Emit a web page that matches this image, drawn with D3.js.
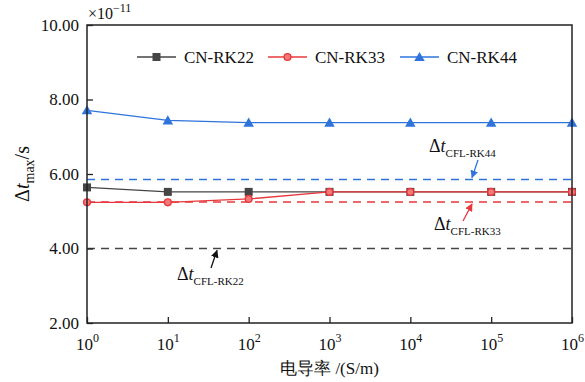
<!DOCTYPE html>
<html>
<head>
<meta charset="utf-8">
<script src="https://cdn.jsdelivr.net/npm/d3@7"></script>
<style>
  body { margin: 0; background: #fff; }
  text { font-family: "Liberation Serif", "Times New Roman", serif; }
</style>
</head>
<body>
<svg width="585" height="382"></svg>
<script>
const sigma = [1, 10, 100, 1000, 10000, 100000, 1000000];
const rk22 = [5.64, 5.52, 5.52, 5.52, 5.52, 5.52, 5.52];
const rk33 = [5.24, 5.24, 5.33, 5.52, 5.52, 5.52, 5.52];
const rk44 = [7.71, 7.44, 7.38, 7.38, 7.38, 7.38, 7.38];
const cflLimits = [4.00, 5.25, 5.85];  // RK22, RK33, RK44
const yTicks = [2, 4, 6, 8, 10];

const svg = d3.select('svg'),
      margin = {top: 25, right: 13, bottom: 59, left: 87},
      width = +svg.attr('width') - margin.left - margin.right,
      height = +svg.attr('height') - margin.top - margin.bottom,
      g = svg.append('g').attr('transform', `translate(${margin.left}, ${margin.top})`);

const x = d3.scaleLog().domain([1, 1e6]).range([0, width]);
const y = d3.scaleLinear().domain([2, 10]).range([height, 0]);

const series = [
  {name: 'CN-RK22', vals: rk22, color: '#454545', shape: 'square', cfl: cflLimits[0]},
  {name: 'CN-RK33', vals: rk33, color: '#e8383d', shape: 'circle', cfl: cflLimits[1]},
  {name: 'CN-RK44', vals: rk44, color: '#2f74dc', shape: 'triangle', cfl: cflLimits[2]}
];

// dashed CFL limit lines
g.selectAll('.cfl')
  .data(series)
  .enter().append('line')
    .attr('x1', 0).attr('x2', width)
    .attr('y1', s => y(s.cfl)).attr('y2', s => y(s.cfl))
    .attr('stroke', s => s.color)
    .attr('stroke-width', 1.5)
    .attr('stroke-dasharray', '8,6');

const line = d3.line()
  .x((v, i) => x(sigma[i]))
  .y(v => y(v));

series.forEach(s => {
  g.append('path')
    .datum(s.vals)
    .attr('fill', 'none')
    .attr('stroke', s.color)
    .attr('stroke-width', 1.3)
    .attr('d', line);
});

function marker(sel, s, cx, cy) {
  if (s.shape === 'square') {
    sel.append('rect').attr('x', cx - 4).attr('y', cy - 4).attr('width', 8).attr('height', 8)
      .attr('fill', s.color);
  } else if (s.shape === 'circle') {
    sel.append('circle').attr('cx', cx).attr('cy', cy).attr('r', 3.4)
      .attr('fill', '#f47a7a').attr('stroke', s.color).attr('stroke-width', 1.4);
  } else {
    sel.append('path').attr('d', d3.symbol(d3.symbolTriangle, 48)())
      .attr('transform', `translate(${cx},${cy + 1})`)
      .attr('fill', s.color);
  }
}

series.forEach(s => {
  const mg = g.append('g');
  s.vals.forEach((v, i) => marker(mg, s, x(sigma[i]), y(v)));
});

// frame
g.append('rect').attr('width', width).attr('height', height)
  .attr('fill', 'none').attr('stroke', '#222').attr('stroke-width', 1.5);

// axes
const yAxis = g.append('g')
  .call(d3.axisLeft(y).tickValues(yTicks).tickSize(-6).tickPadding(8).tickFormat(d3.format('.2f')));
const xAxis = g.append('g')
  .attr('transform', `translate(0, ${height})`)
  .call(d3.axisBottom(x).tickValues(sigma).tickSize(-6).tickPadding(8).tickFormat(() => ''));
[yAxis, xAxis].forEach(a => {
  a.select('.domain').remove();
  a.selectAll('.tick line').attr('stroke', '#222').attr('stroke-width', 1.3);
});
yAxis.selectAll('.tick text').attr('font-size', 17).attr('fill', '#111')
  .attr('font-family', '"Liberation Serif", serif');

// log tick labels 10^n
xAxis.selectAll('.tick').each(function(d) {
  const t = d3.select(this).append('text')
    .attr('y', 27).attr('fill', '#111').attr('font-size', 17)
    .attr('text-anchor', 'middle');
  t.append('tspan').text('10');
  t.append('tspan').attr('dy', -8).attr('font-size', 12).text(Math.round(Math.log10(d)));
});

// x10^-11
const ex = svg.append('text').attr('x', 88).attr('y', 19).attr('font-size', 16).attr('fill', '#111');
ex.append('tspan').text('×10');
ex.append('tspan').attr('dy', -7).attr('font-size', 12).text('−11');

// axis titles
const yl = svg.append('text')
  .attr('transform', `translate(29, ${margin.top + height / 2}) rotate(-90)`)
  .attr('text-anchor', 'middle').attr('font-size', 20).attr('fill', '#111');
yl.append('tspan').text('Δ');
yl.append('tspan').attr('font-style', 'italic').text('t');
yl.append('tspan').attr('dy', 5).attr('font-size', 14).text('max');
yl.append('tspan').attr('dy', -5).text('/s');

svg.append('text')
  .attr('x', margin.left + width / 2).attr('y', 374)
  .attr('text-anchor', 'middle').attr('font-size', 17).attr('fill', '#111')
  .attr('font-family', '"Noto Sans CJK SC", sans-serif')
  .text('电导率 /(S/m)');

// legend
const legend = svg.append('g').attr('transform', 'translate(137, 57)');
const legX = [0, 131, 263];
series.forEach((s, i) => {
  const lg = legend.append('g').attr('transform', `translate(${legX[i]}, 0)`);
  lg.append('line').attr('x1', 0).attr('x2', 39).attr('stroke', s.color).attr('stroke-width', 1.3);
  marker(lg, s, 19.5, 0);
  lg.append('text').attr('x', 47).attr('y', 6).attr('font-size', 17).attr('fill', '#111').text(s.name);
});

// CFL annotations
const notes = [
  {label: 'CFL-RK22', color: '#111', tx: 177, ty: 280, x1: 211, y1: 268, x2: 217, s: series[0]},
  {label: 'CFL-RK33', color: '#e8383d', tx: 434, ty: 230, x1: 463, y1: 221, x2: 472, s: series[1]},
  {label: 'CFL-RK44', color: '#2f74dc', tx: 429, ty: 152, x1: 478, y1: 160, x2: 472, s: series[2]}
];
const defs = svg.append('defs');
notes.forEach((n, i) => {
  defs.append('marker').attr('id', 'ah' + i)
    .attr('viewBox', '0 0 10 10').attr('refX', 9).attr('refY', 5)
    .attr('markerWidth', 6).attr('markerHeight', 6).attr('orient', 'auto')
    .append('path').attr('d', 'M0,0L10,5L0,10z').attr('fill', n.color);
  const lineY = margin.top + y(n.s.cfl);
  const tipY = lineY + (n.y1 > lineY ? 2 : -2);
  svg.append('line')
    .attr('x1', n.x1).attr('y1', n.y1)
    .attr('x2', n.x2).attr('y2', tipY)
    .attr('stroke', n.color).attr('stroke-width', 1.3)
    .attr('marker-end', `url(#ah${i})`);
  const t = svg.append('text').attr('x', n.tx).attr('y', n.ty).attr('font-size', 18).attr('fill', '#111');
  t.append('tspan').text('Δ');
  t.append('tspan').attr('font-style', 'italic').text('t');
  t.append('tspan').attr('dy', 5).attr('font-size', 11).text(n.label);
});
</script>
</body>
</html>
